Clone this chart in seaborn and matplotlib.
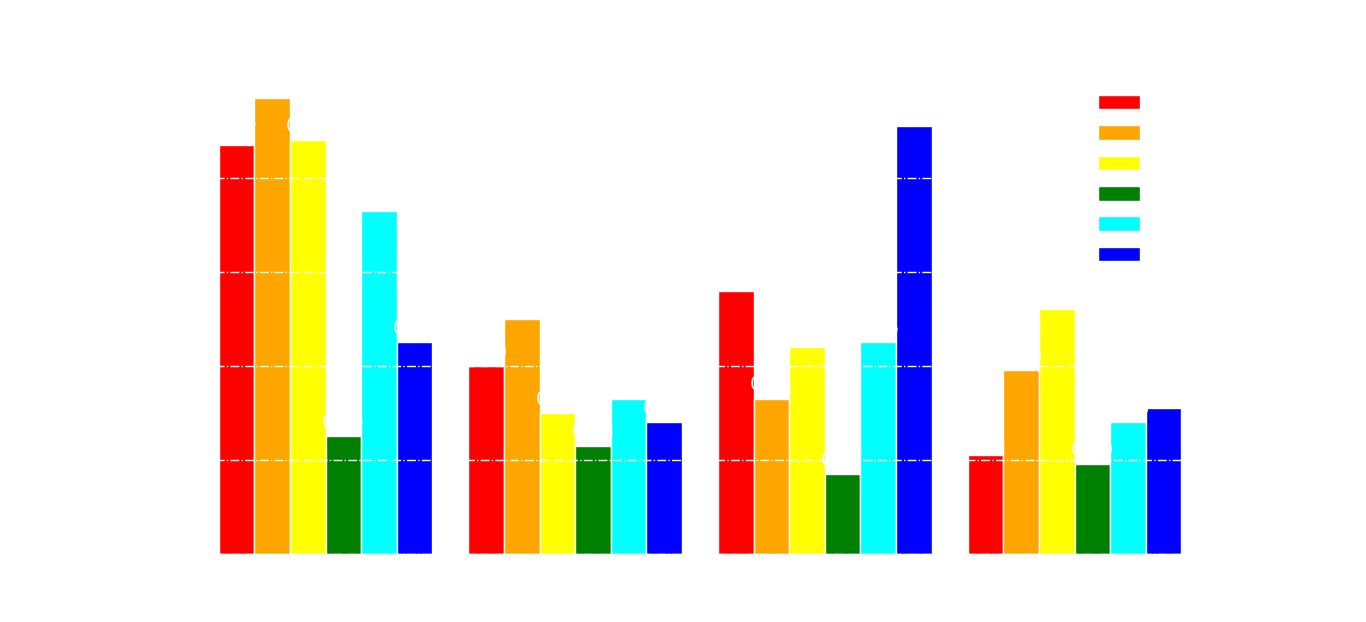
import pandas as pd
import matplotlib
matplotlib.use('Agg')
import matplotlib.pyplot as plt
import seaborn as sns

# %%
groups = ['Group 1', 'Group 2', 'Group 3', 'Group 4']
series = ['Set 1', 'Set 2', 'Set 3', 'Set 4', 'Set 5', 'Set 6']
colors = ['red', 'orange', 'yellow', 'green', 'cyan', 'blue']

s1 = [0.87, 0.40, 0.56, 0.21]
s2 = [0.97, 0.50, 0.33, 0.39]
s3 = [0.88, 0.30, 0.44, 0.52]
s4 = [0.25, 0.23, 0.17, 0.19]
s5 = [0.73, 0.33, 0.45, 0.28]
s6 = [0.45, 0.28, 0.91, 0.31]

# %%
rows = []
for name, vals in zip(series, [s1, s2, s3, s4, s5, s6]):
    for g, v in zip(groups, vals):
        rows.append({'group': g, 'series': name, 'value': v})
df = pd.DataFrame(rows)

# %%
sns.set_style('white')
fig, ax = plt.subplots(figsize=(13.66, 6.22), dpi=100)
sns.barplot(data=df, x='group', y='value', hue='series', palette=colors,
            width=0.855, edgecolor='white', linewidth=1, saturation=1, ax=ax)

for c in ax.containers:
    ax.bar_label(c, fmt='%.2f', color='white', fontsize=14, padding=3)

ax.set(xlim=(-0.62, 3.62), ylim=(0, 1.02))
ax.set_yticks([0.0, 0.2, 0.4, 0.6, 0.8, 1.0])
ax.yaxis.grid(True, color='white', linestyle='-.', linewidth=1)
ax.set_axisbelow(False)
ax.set_xlabel('Group', color='white', fontsize=14)
ax.set_ylabel('Value', color='white', fontsize=14)
ax.set_title('Values by group', color='white', fontsize=16)
ax.tick_params(colors='white', labelsize=12)
for sp in ax.spines.values():
    sp.set_color('white')

leg = ax.legend(loc='upper right', fontsize=15, frameon=True)
leg.get_frame().set_edgecolor('white')
for t in leg.get_texts():
    t.set_color('white')

fig.savefig('out.png', dpi=100, facecolor='white')
